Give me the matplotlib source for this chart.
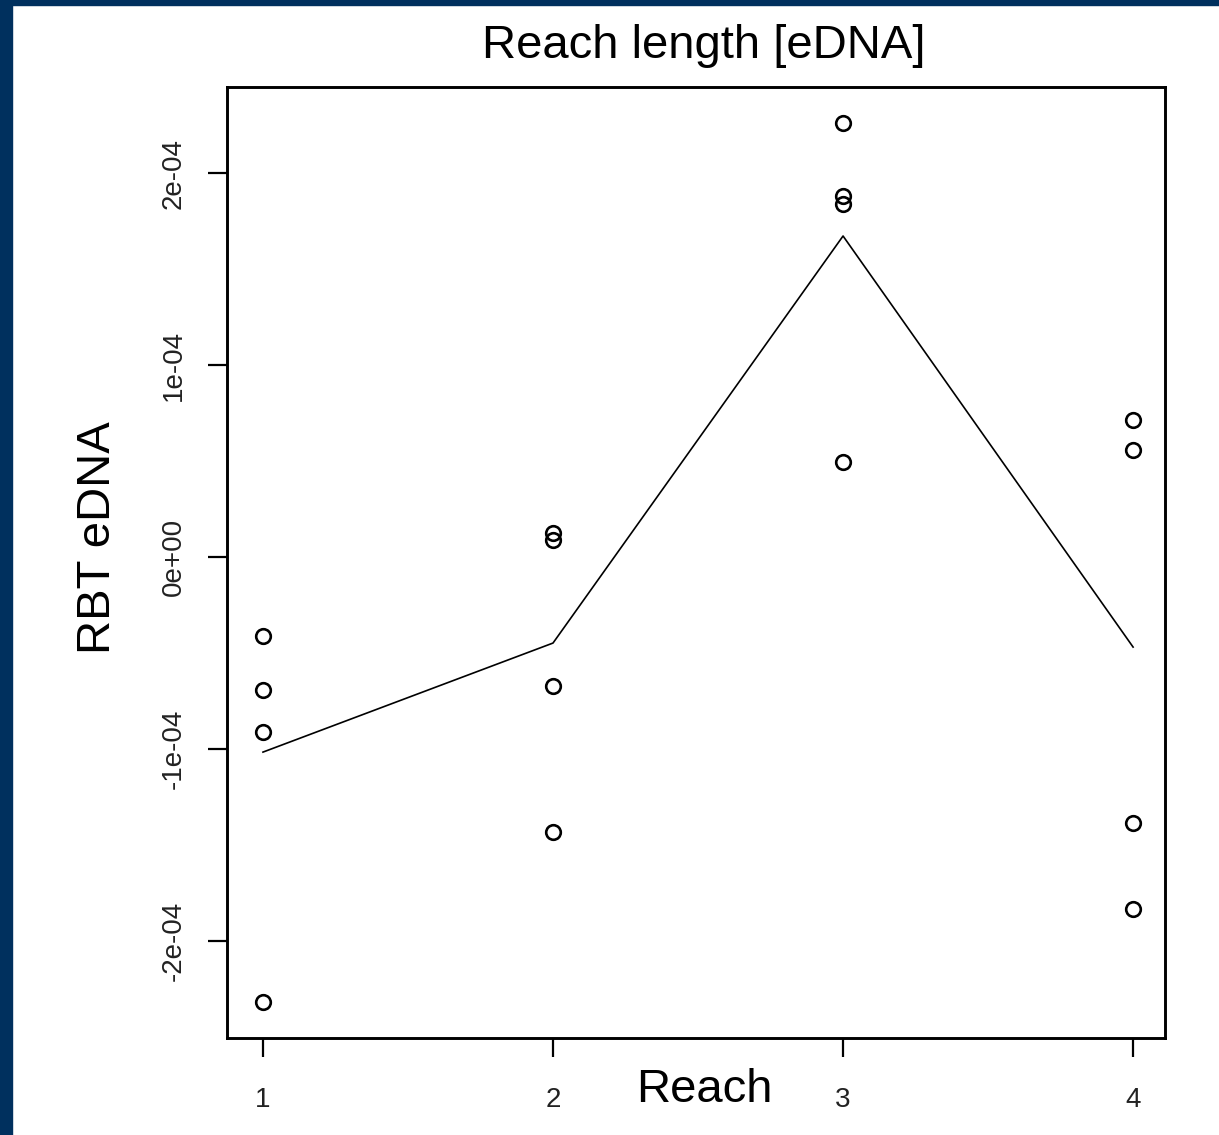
import matplotlib
matplotlib.use("Agg")
import matplotlib.pyplot as plt
from matplotlib.patches import Rectangle

plt.rcParams['font.family'] = ['Liberation Sans', 'DejaVu Sans']

# Data
reach = [1, 2, 3, 4]
points_x = [1, 1, 1, 1, 2, 2, 2, 2, 3, 3, 3, 3, 4, 4, 4, 4]
points_y = [-0.41e-4, -0.69e-4, -0.91e-4, -2.32e-4,
            0.125e-4, 0.089e-4, -0.67e-4, -1.43e-4,
            2.26e-4, 1.88e-4, 1.84e-4, 0.495e-4,
            0.714e-4, 0.557e-4, -1.385e-4, -1.833e-4]
line_y = [-1.016e-4, -0.448e-4, 1.672e-4, -0.469e-4]
xticks = [1, 2, 3, 4]
yticks = [-2e-4, -1e-4, 0, 1e-4, 2e-4]
ytick_labels = ["-2e-04", "-1e-04", "0e+00", "1e-04", "2e-04"]

W, H = 1219, 1135
fig = plt.figure(figsize=(W / 100, H / 100), dpi=100)
fig.patch.set_facecolor('white')

# dark navy frame strips (left and top)
navy = '#00305e'
fig.add_artist(Rectangle((0, 0), 12 / W, 1, transform=fig.transFigure, color=navy, zorder=0))
fig.add_artist(Rectangle((0, 1 - 5 / H), 1, 5 / H, transform=fig.transFigure, color=navy, zorder=0))

ax = fig.add_axes([227 / W, 1 - 1038 / H, 938 / W, 951 / H])
ax.plot(reach, line_y, color='black', lw=1.2)
ax.plot(points_x, points_y, linestyle='none', marker='o', markersize=10.5,
        markerfacecolor='none', markeredgecolor='black', markeredgewidth=1.9)

ax.set_xlim(0.876, 4.11)
ax.set_ylim(-2.505e-4, 2.448e-4)
ax.set_xticks(xticks)
ax.set_xticklabels([str(v) for v in xticks])
ax.set_yticks(yticks)
ax.set_yticklabels(ytick_labels, rotation=90, va='center')
ax.tick_params(axis='both', direction='out', length=14, width=1.6, colors='black',
               labelcolor='#222222', labelsize=20)
ax.tick_params(axis='x', pad=21)
ax.tick_params(axis='y', pad=15)
for s in ax.spines.values():
    s.set_linewidth(2.1)
    s.set_color('black')

fig.text(704 / W, 1 - 46 / H, "Reach length [eDNA]", ha='center', va='center', fontsize=34)
fig.text(704 / W, 1 - 1090 / H, "Reach", ha='center', va='center', fontsize=34)
fig.text(98 / W, 1 - 538 / H, "RBT eDNA", ha='center', va='center', rotation=90, fontsize=34)

fig.savefig("out.png", dpi=100, facecolor='white')
